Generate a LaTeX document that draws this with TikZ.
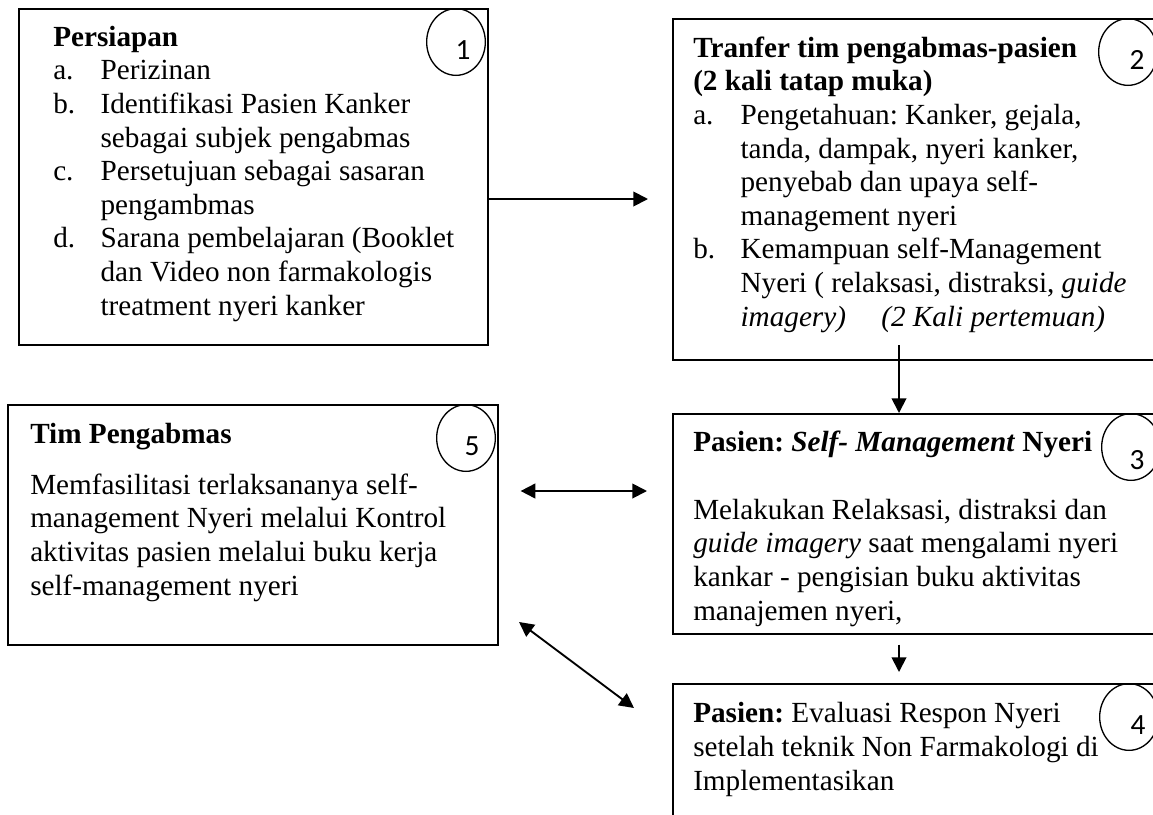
\documentclass[tikz,border=0pt]{standalone}
\usepackage{fontspec}
\setmainfont{Liberation Serif}
\newfontfamily\numfont{Carlito}
\usetikzlibrary{arrows.meta,shapes.geometric}
\frenchspacing

\tikzset{
  box/.style 2 args={draw, line width=1.2pt, anchor=north west, inner sep=0pt, minimum width=#1, minimum height=#2},
  ring/.style={draw, ellipse, line width=1pt, inner sep=0pt, minimum width=44pt, minimum height=50pt},
  digit/.style={font=\numfont\fontsize{22}{26}\selectfont, inner sep=0pt},
  txt/.style={anchor=base west, align=left, inner sep=0pt, font=\fontsize{21.9}{25.2}\selectfont},
  arr/.style={line width=1.4pt, -{Triangle[length=11pt,width=11pt]}},
  darr/.style={line width=1.4pt, {Triangle[length=11pt,width=11pt]}-{Triangle[length=11pt,width=11pt]}}
}
\newcommand{\itm}[1]{\makebox[35.5pt][l]{#1}}
\newcommand{\ind}{\hspace*{35.5pt}}

\begin{document}
\begin{tikzpicture}[x=0.75pt,y=0.75pt,yscale=-1,xscale=1]
\useasboundingbox (0,0) rectangle (1153,814);
\clip (0,0) rectangle (1153,814);

% Boxes
\node[box={351.75pt}{252pt}] (b1) at (18,8) {};
\node[box={364.5pt}{255.75pt}] (b2) at (672,18) {};
\node[box={364.5pt}{165pt}] (b3) at (672,413) {};
\node[box={364.5pt}{110.25pt}] (b4) at (672,683) {};
\node[box={367.5pt}{180pt}] (b5) at (7,404) {};

% Number rings (yshift is flipped by yscale=-1, so positive moves down)
\node[ring] (c1) at (456,42) {};
\node[ring] (c2) at (1128,52) {};
\node[ring] (c3) at (1131,447) {};
\node[ring] (c4) at (1129,717) {};
\node[ring] (c5) at (466,438) {};
\node[digit] (n1) at ([xshift=5.25pt,yshift=6pt]c1) {1};
\node[digit] (n2) at ([xshift=6.75pt,yshift=6pt]c2) {2};
\node[digit] (n3) at ([xshift=4.5pt,yshift=10pt]c3) {3};
\node[digit] (n4) at ([xshift=6.75pt,yshift=6pt]c4) {4};
\node[digit] (n5) at ([xshift=4.5pt,yshift=6pt]c5) {5};

% Text Node (anchored at the baseline of the last line)
\node[txt] (t1) at (53,315) {\textbf{Persiapan}\\
\itm{a.}Perizinan\\
\itm{b.}Identifikasi Pasien Kanker\\
\ind sebagai subjek pengabmas\\
\itm{c.}Persetujuan sebagai sasaran\\
\ind pengambmas\\
\itm{d.}Sarana pembelajaran (Booklet\\
\ind dan Video non farmakologis\\
\ind treatment nyeri kanker};
% Text Node
\node[txt] (t2) at (693,326) {\textbf{Tranfer tim pengabmas-pasien}\\
\textbf{(2 kali tatap muka)}\\
\itm{a.}Pengetahuan: Kanker, gejala,\\
\ind tanda, dampak, nyeri kanker,\\
\ind penyebab dan upaya self-\\
\ind management nyeri\\
\itm{b.}Kemampuan self-Management\\
\ind Nyeri ( relaksasi, distraksi, \textit{guide}\\
\ind \textit{imagery)}\hspace{21pt} \textit{(2 Kali pertemuan)}};
% Text Node
\node[txt] (t3) at (693,620) {\textbf{Pasien: \textit{Self- Management} Nyeri}\\[25.8pt]
Melakukan Relaksasi, distraksi dan\\
\textit{guide imagery} saat mengalami nyeri\\
kankar - pengisian buku aktivitas\\
manajemen nyeri,};
% Text Node
\node[txt] (t4) at (693,790) {\textbf{Pasien:} Evaluasi Respon Nyeri\\
setelah teknik Non Farmakologi di\\
Implementasikan};
% Text Node
\node[txt] (t5) at (30,595) {\textbf{Tim Pengabmas}\\[13pt]
Memfasilitasi terlaksananya self-\\
management Nyeri melalui Kontrol\\
aktivitas pasien melalui buku kerja\\
self-management nyeri};

% Connectors
\coordinate (r12) at (0,199);
\coordinate (s23) at (899,345);
\coordinate (r53) at (0,491);
\coordinate (d5) at (519,622);
\coordinate (d4) at (634,708);
\draw[arr, shorten >=18pt] (b1.east |- r12) -- (b2.west |- r12);
\draw[arr] (s23) -- (s23 |- b3.north);
\draw[arr, shorten <=7.5pt, shorten >=8.25pt] (s23 |- b3.south) -- (s23 |- b4.north);
\draw[darr, shorten <=16.5pt, shorten >=18.75pt] (b5.east |- r53) -- (b3.west |- r53);
\draw[darr] (d5) -- (d4);
\end{tikzpicture}
\end{document}
